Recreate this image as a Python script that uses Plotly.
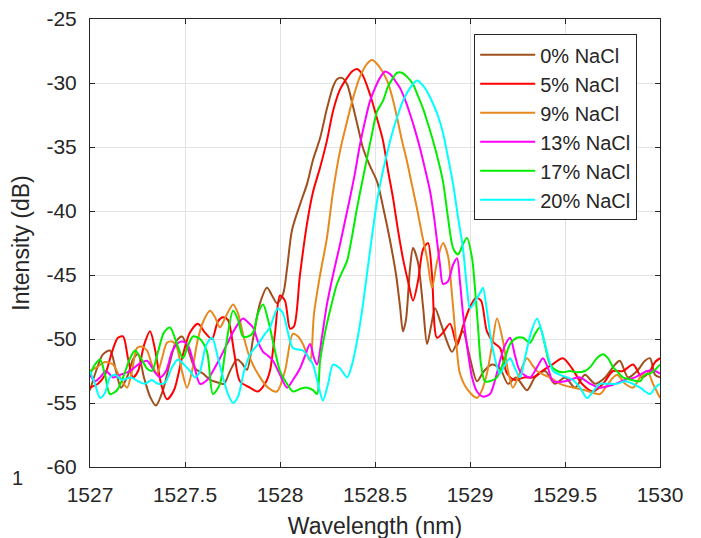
import plotly.graph_objects as go

# ---------------- data ----------------
labels = ["0% NaCl", "5% NaCl", "9% NaCl", "13% NaCl", "17% NaCl", "20% NaCl"]
colors = ["#A0501E", "#FF0000", "#E6891E", "#FF00FF", "#00EE00", "#00FFFF"]

wl_0 = [1527.000,1527.032,1527.068,1527.105,1527.137,1527.163,1527.200,1527.226,1527.253,1527.284,
        1527.316,1527.347,1527.384,1527.421,1527.453,1527.484,1527.516,1527.553,1527.595,1527.632,
        1527.674,1527.705,1527.737,1527.774,1527.800,1527.826,1527.858,1527.895,1527.932,1527.958,
        1527.984,1528.016,1528.037,1528.063,1528.105,1528.142,1528.174,1528.211,1528.247,1528.279,
        1528.300,1528.326,1528.353,1528.379,1528.411,1528.437,1528.474,1528.511,1528.547,1528.579,
        1528.611,1528.632,1528.647,1528.663,1528.684,1528.700,1528.726,1528.753,1528.774,1528.795,
        1528.816,1528.847,1528.879,1528.905,1528.932,1528.963,1529.000,1529.037,1529.074,1529.116,
        1529.158,1529.200,1529.242,1529.300,1529.342,1529.395,1529.447,1529.500,1529.553,1529.605,
        1529.658,1529.711,1529.763,1529.789,1529.832,1529.879,1529.921,1529.947,1529.974,1530.000]
db_0 = [-54.0,-52.5,-51.2,-50.9,-52.5,-53.8,-52.8,-51.6,-51.2,-53.0,
        -54.5,-55.2,-54.0,-51.8,-50.2,-49.8,-50.8,-52.3,-52.7,-53.2,
        -53.4,-53.5,-52.5,-51.6,-51.9,-52.4,-50.0,-47.2,-46.0,-46.6,
        -47.2,-46.5,-44.5,-41.5,-39.5,-37.9,-36.0,-34.3,-32.0,-30.3,
        -29.7,-29.6,-30.1,-31.5,-33.5,-35.1,-36.5,-37.7,-40.0,-42.3,
        -45.0,-47.5,-49.4,-48.5,-44.5,-42.9,-44.0,-47.5,-50.4,-49.0,
        -47.6,-48.8,-50.2,-51.0,-50.3,-49.4,-51.5,-53.3,-52.5,-52.0,
        -52.3,-53.5,-53.0,-54.0,-53.0,-52.5,-53.5,-53.0,-53.8,-52.8,
        -53.5,-53.0,-52.0,-51.7,-53.0,-52.5,-51.7,-51.5,-52.8,-53.0]

wl_5 = [1527.000,1527.042,1527.079,1527.116,1527.147,1527.174,1527.200,1527.226,1527.253,1527.284,
        1527.316,1527.342,1527.374,1527.405,1527.442,1527.484,1527.526,1527.568,1527.605,1527.642,
        1527.674,1527.700,1527.726,1527.758,1527.789,1527.842,1527.884,1527.921,1527.947,1527.974,
        1528.000,1528.026,1528.053,1528.074,1528.105,1528.142,1528.174,1528.211,1528.247,1528.279,
        1528.316,1528.353,1528.379,1528.405,1528.432,1528.474,1528.511,1528.542,1528.568,1528.595,
        1528.621,1528.647,1528.674,1528.700,1528.726,1528.753,1528.779,1528.800,1528.826,1528.858,
        1528.895,1528.932,1528.963,1529.000,1529.032,1529.058,1529.089,1529.126,1529.158,1529.195,
        1529.237,1529.284,1529.332,1529.379,1529.432,1529.489,1529.537,1529.589,1529.647,1529.700,
        1529.753,1529.805,1529.858,1529.905,1529.947,1529.974,1530.000]
db_5 = [-53.8,-53.5,-52.8,-51.0,-49.9,-49.8,-51.5,-53.0,-52.5,-50.5,
        -49.4,-50.8,-53.5,-54.7,-54.0,-51.5,-49.5,-48.8,-49.5,-50.0,
        -48.6,-48.3,-48.5,-51.0,-53.3,-53.8,-54.1,-53.5,-52.5,-49.5,
        -46.6,-47.0,-49.2,-49.0,-45.0,-41.0,-38.5,-36.6,-34.5,-32.2,
        -30.5,-29.6,-29.1,-28.9,-29.3,-30.9,-32.8,-34.5,-36.8,-39.0,
        -41.5,-43.7,-45.5,-47.0,-45.5,-43.0,-42.5,-45.0,-49.9,-49.5,
        -48.8,-50.5,-49.0,-47.5,-46.8,-47.0,-49.4,-50.3,-50.7,-52.7,
        -53.2,-53.0,-53.0,-52.5,-52.0,-51.5,-52.3,-53.5,-54.1,-53.5,
        -52.5,-52.5,-52.0,-53.0,-52.5,-51.8,-51.5]

wl_9 = [1527.000,1527.037,1527.079,1527.121,1527.158,1527.195,1527.221,1527.247,1527.274,1527.300,
        1527.326,1527.353,1527.379,1527.405,1527.432,1527.458,1527.484,1527.511,1527.537,1527.568,
        1527.600,1527.632,1527.658,1527.684,1527.716,1527.753,1527.779,1527.805,1527.842,1527.895,
        1527.937,1527.984,1528.026,1528.068,1528.095,1528.121,1528.158,1528.179,1528.211,1528.247,
        1528.279,1528.316,1528.353,1528.384,1528.421,1528.458,1528.484,1528.516,1528.563,1528.589,
        1528.616,1528.642,1528.668,1528.695,1528.721,1528.747,1528.774,1528.800,1528.826,1528.858,
        1528.884,1528.905,1528.926,1528.947,1528.989,1529.037,1529.063,1529.089,1529.116,1529.142,
        1529.174,1529.200,1529.226,1529.263,1529.300,1529.326,1529.353,1529.389,1529.421,1529.474,
        1529.542,1529.605,1529.684,1529.726,1529.774,1529.816,1529.858,1529.895,1529.932,1529.963,
        1530.000]
db_9 = [-52.5,-52.2,-51.8,-52.0,-53.0,-53.8,-52.5,-50.7,-50.6,-50.9,
        -52.0,-52.7,-51.5,-50.3,-50.2,-50.7,-52.5,-53.8,-52.5,-50.0,
        -48.5,-47.8,-48.3,-49.1,-48.2,-47.3,-48.0,-49.6,-51.5,-53.0,
        -53.8,-54.1,-52.5,-49.6,-49.8,-50.4,-51.7,-48.0,-45.0,-42.1,
        -38.5,-35.3,-33.0,-31.2,-29.5,-28.5,-28.2,-28.6,-29.8,-31.0,
        -32.7,-34.5,-36.1,-38.0,-39.8,-41.8,-43.7,-46.0,-44.0,-42.5,
        -43.5,-46.5,-50.0,-52.7,-54.0,-54.6,-54.0,-52.7,-50.5,-48.4,
        -50.2,-52.5,-53.8,-52.6,-51.5,-52.0,-52.5,-52.8,-53.0,-53.5,
        -53.8,-54.0,-54.3,-53.5,-52.8,-53.5,-53.8,-53.0,-52.5,-53.5,
        -54.6]

wl_13 = [1527.000,1527.026,1527.053,1527.084,1527.121,1527.158,1527.211,1527.253,1527.300,1527.337,
         1527.368,1527.400,1527.432,1527.463,1527.489,1527.516,1527.547,1527.579,1527.616,1527.647,
         1527.684,1527.721,1527.763,1527.805,1527.832,1527.858,1527.884,1527.911,1527.937,1527.963,
         1528.000,1528.037,1528.068,1528.105,1528.132,1528.158,1528.179,1528.195,1528.221,1528.247,
         1528.279,1528.316,1528.342,1528.368,1528.395,1528.421,1528.447,1528.474,1528.500,1528.526,
         1528.553,1528.579,1528.605,1528.632,1528.658,1528.684,1528.711,1528.737,1528.763,1528.789,
         1528.811,1528.826,1528.842,1528.858,1528.884,1528.911,1528.932,1528.947,1528.963,1528.984,
         1529.011,1529.037,1529.068,1529.105,1529.132,1529.158,1529.184,1529.211,1529.237,1529.263,
         1529.316,1529.353,1529.384,1529.411,1529.437,1529.500,1529.579,1529.632,1529.684,1529.747,
         1529.816,1529.868,1529.932,1529.974,1530.000]
db_13 = [-52.8,-53.3,-53.0,-52.5,-53.0,-52.8,-52.5,-52.0,-51.7,-52.5,
         -53.0,-52.5,-51.0,-50.3,-50.2,-50.5,-52.0,-53.5,-53.2,-52.5,
         -51.5,-50.4,-49.2,-48.4,-48.7,-49.1,-50.2,-51.0,-51.3,-51.7,
         -52.8,-53.8,-53.2,-52.3,-51.3,-50.4,-51.5,-52.0,-49.8,-47.3,
         -45.0,-42.6,-40.8,-39.0,-37.0,-34.8,-33.0,-31.4,-30.4,-29.6,
         -29.1,-29.3,-29.8,-30.4,-31.3,-32.4,-33.7,-35.1,-36.7,-38.4,
         -40.5,-42.3,-44.2,-45.7,-45.5,-44.2,-43.7,-45.5,-48.0,-50.5,
         -53.0,-54.1,-54.5,-54.3,-53.2,-51.7,-50.5,-49.9,-51.3,-52.5,
         -53.0,-52.2,-51.5,-52.3,-53.3,-53.3,-53.0,-53.5,-53.8,-53.6,
         -53.2,-53.0,-52.5,-52.5,-52.7]

wl_17 = [1527.000,1527.026,1527.053,1527.079,1527.105,1527.142,1527.174,1527.211,1527.237,1527.268,
         1527.300,1527.326,1527.358,1527.389,1527.421,1527.458,1527.489,1527.516,1527.542,1527.579,
         1527.616,1527.647,1527.684,1527.716,1527.753,1527.779,1527.805,1527.832,1527.858,1527.884,
         1527.911,1527.937,1527.963,1528.000,1528.037,1528.068,1528.105,1528.142,1528.174,1528.195,
         1528.211,1528.237,1528.263,1528.300,1528.326,1528.353,1528.379,1528.405,1528.437,1528.463,
         1528.484,1528.511,1528.542,1528.568,1528.595,1528.616,1528.642,1528.668,1528.700,1528.726,
         1528.753,1528.779,1528.805,1528.832,1528.858,1528.884,1528.911,1528.937,1528.963,1528.984,
         1529.011,1529.026,1529.042,1529.058,1529.079,1529.105,1529.142,1529.158,1529.184,1529.211,
         1529.247,1529.279,1529.316,1529.342,1529.368,1529.395,1529.421,1529.458,1529.489,1529.526,
         1529.563,1529.605,1529.632,1529.668,1529.700,1529.726,1529.753,1529.779,1529.805,1529.853,
         1529.895,1529.921,1529.947,1529.974,1530.000]
db_17 = [-52.8,-52.0,-51.6,-52.8,-54.3,-54.0,-53.0,-51.5,-50.9,-51.5,
         -52.3,-52.5,-51.0,-49.5,-49.1,-50.4,-51.5,-50.5,-49.8,-50.0,
         -51.0,-54.3,-53.5,-50.5,-47.8,-48.5,-49.8,-49.8,-49.5,-48.0,
         -47.3,-48.5,-50.2,-52.5,-53.5,-54.1,-53.9,-53.8,-54.0,-54.3,
         -51.7,-49.5,-47.8,-45.7,-44.8,-43.9,-42.0,-39.8,-37.4,-35.5,
         -34.0,-32.2,-31.4,-30.3,-29.6,-29.2,-29.2,-29.5,-30.1,-31.0,
         -32.0,-33.2,-34.5,-36.0,-37.7,-40.5,-42.9,-43.4,-42.6,-42.1,
         -43.7,-46.0,-49.0,-52.0,-53.3,-53.3,-53.0,-52.5,-51.5,-50.4,
         -49.9,-49.9,-50.3,-49.6,-49.1,-50.5,-52.0,-52.5,-52.6,-52.5,
         -52.6,-52.5,-52.2,-51.5,-51.2,-51.5,-52.2,-52.6,-53.0,-53.2,
         -53.3,-52.8,-52.7,-52.4,-52.0]

wl_20 = [1527.000,1527.026,1527.053,1527.079,1527.105,1527.132,1527.168,1527.216,1527.253,1527.289,
         1527.326,1527.358,1527.395,1527.432,1527.463,1527.495,1527.526,1527.553,1527.579,1527.611,
         1527.642,1527.674,1527.700,1527.726,1527.753,1527.779,1527.811,1527.842,1527.884,1527.921,
         1527.947,1527.974,1527.989,1528.016,1528.042,1528.068,1528.121,1528.153,1528.174,1528.200,
         1528.226,1528.253,1528.279,1528.316,1528.353,1528.379,1528.405,1528.432,1528.458,1528.484,
         1528.511,1528.537,1528.563,1528.589,1528.616,1528.647,1528.684,1528.721,1528.753,1528.779,
         1528.805,1528.832,1528.858,1528.884,1528.911,1528.937,1528.963,1528.984,1529.000,1529.021,
         1529.053,1529.068,1529.089,1529.116,1529.158,1529.184,1529.211,1529.237,1529.263,1529.289,
         1529.321,1529.353,1529.379,1529.405,1529.437,1529.474,1529.511,1529.542,1529.579,1529.616,
         1529.653,1529.684,1529.726,1529.774,1529.816,1529.858,1529.895,1529.947,1529.974,1530.000]
db_20 = [-52.5,-53.5,-54.6,-54.2,-53.0,-52.8,-53.2,-53.0,-53.3,-53.5,
         -53.2,-53.5,-53.4,-52.2,-51.6,-52.0,-52.5,-53.0,-52.5,-50.5,
         -49.9,-51.5,-53.0,-54.3,-55.0,-54.5,-52.5,-51.2,-50.4,-49.6,
         -49.1,-48.0,-47.6,-48.0,-49.5,-50.7,-50.9,-51.5,-52.0,-53.5,
         -54.8,-53.5,-52.0,-52.3,-53.0,-52.0,-50.2,-47.8,-44.9,-42.0,
         -39.2,-37.2,-35.5,-34.0,-32.7,-31.4,-30.4,-29.8,-30.2,-30.8,
         -31.6,-32.6,-33.9,-35.8,-37.9,-40.5,-42.9,-46.0,-47.6,-47.2,
         -46.4,-46.0,-47.8,-50.5,-52.7,-52.0,-51.5,-52.3,-53.0,-51.5,
         -49.5,-48.4,-49.5,-51.0,-52.5,-52.8,-53.0,-53.2,-53.8,-54.6,
         -54.0,-53.5,-53.5,-53.5,-53.3,-53.5,-53.8,-54.3,-53.8,-53.5]

x_ticks = [1527, 1527.5, 1528, 1528.5, 1529, 1529.5, 1530]
x_tick_text = ["1527", "1527.5", "1528", "1528.5", "1529", "1529.5", "1530"]
y_ticks = [-60, -55, -50, -45, -40, -35, -30, -25]
y_tick_text = ["-60", "-55", "-50", "-45", "-40", "-35", "-30", "-25"]
x_title = "Wavelength (nm)"
y_title = "Intensity (dB)"

series_x = [wl_0, wl_5, wl_9, wl_13, wl_17, wl_20]
series_y = [db_0, db_5, db_9, db_13, db_17, db_20]

# ---------------- figure ----------------
FONT = "Liberation Sans, Arial, Helvetica, sans-serif"
TXT = "#262626"
fig = go.Figure()
for xs, ys, name, col in zip(series_x, series_y, labels, colors):
    fig.add_trace(go.Scatter(x=xs, y=ys, mode="lines", name=name, legendgroup=name,
                             line=dict(color=col, width=2, shape="spline", smoothing=0.8)))

axis_common = dict(showline=True, linecolor=TXT, linewidth=1, mirror="ticks",
                   ticks="inside", ticklen=5, tickcolor=TXT, tickwidth=1,
                   showgrid=True, gridcolor="#E3E3E3", gridwidth=1, zeroline=False,
                   automargin=False, ticklabeloverflow="allow",
                   tickfont=dict(family=FONT, size=21, color=TXT))

fig.update_layout(
    width=701, height=538,
    margin=dict(l=82, r=49, t=11, b=79),
    paper_bgcolor="white", plot_bgcolor="white",
    xaxis=dict(range=[1527, 1530], tickvals=x_ticks, ticktext=x_tick_text,
               ticklabelstandoff=9,
               title=dict(text=x_title, font=dict(family=FONT, size=23, color=TXT), standoff=12),
               **axis_common),
    yaxis=dict(range=[-60, -25], tickvals=y_ticks, ticktext=y_tick_text,
               ticklabelstandoff=8,
               title=dict(text=y_title, font=dict(family=FONT, size=23, color=TXT), standoff=10),
               **axis_common),
    legend=dict(x=0.674, y=0.966, xanchor="left", yanchor="top",
                bgcolor="white", bordercolor=TXT, borderwidth=1,
                font=dict(family=FONT, size=20, color=TXT),
                itemwidth=55, tracegroupgap=0),
    showlegend=True,
)
fig.add_annotation(text="1", xref="paper", yref="paper", x=-0.14, y=-0.054,
                   xanchor="left", showarrow=False,
                   font=dict(family=FONT, size=20, color=TXT))

fig.write_html("out.html")
